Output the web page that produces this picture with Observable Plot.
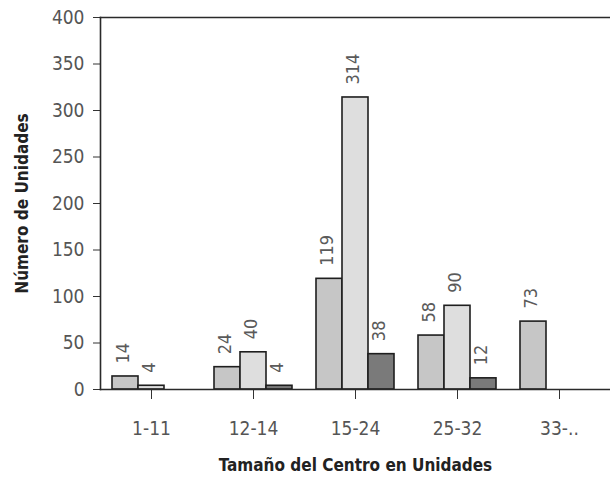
<!DOCTYPE html>
<html>
<head>
<meta charset="utf-8">
<script src="https://cdn.jsdelivr.net/npm/d3@7"></script>
<script src="https://cdn.jsdelivr.net/npm/@observablehq/plot@0.6"></script>
<style>
  html, body { margin: 0; padding: 0; background: #fff; overflow: hidden; }
  #chart svg, #chart svg text { font-stretch: condensed; }
</style>
</head>
<body>
<div id="chart"></div>
<script>
const categories = ["1-11", "12-14", "15-24", "25-32", "33-.."];
const seriesNames = ["Serie 1", "Serie 2", "Serie 3"];
const serie1 = [14, 24, 119, 58, 73];
const serie2 = [4, 40, 314, 90, null];
const serie3 = [null, 4, 38, 12, null];
const yTicks = [0, 50, 100, 150, 200, 250, 300, 350, 400];
const seriesColors = ["#c6c6c6", "#dedede", "#7a7a7a"];

const allSeries = [serie1, serie2, serie3];
const rows = [];
categories.forEach((c, i) => {
  seriesNames.forEach((s, j) => {
    const v = allSeries[j][i];
    if (v != null) rows.push({cat: c, series: s, value: v});
  });
});

const font = "'Liberation Sans Narrow', 'DejaVu Sans Condensed', 'DejaVu Sans', sans-serif";

const chart = Plot.plot({
  width: 610,
  height: 477,
  marginLeft: 99,
  marginRight: 0,
  marginTop: 17,
  marginBottom: 88,
  style: {fontFamily: font, fontSize: "19px", color: "#555", background: "#fff"},
  fx: {domain: categories, padding: 0, label: null, axis: null},
  x: {domain: seriesNames, paddingInner: 0, paddingOuter: 0.39, axis: null},
  y: {domain: [0, 400], axis: null},
  color: {domain: seriesNames, range: seriesColors},
  marks: [
    Plot.barY(rows, {fx: "cat", x: "series", y: "value", fill: "series", stroke: "#1e1e1e", strokeWidth: 1.6}),
    Plot.text(rows, {fx: "cat", x: "series", y: "value", text: d => String(d.value), rotate: -90, textAnchor: "start", dy: -13, dx: -2, fill: "#5a5a5a", fontSize: 18}),
    Plot.axisY({ticks: yTicks, tickSize: 7, tickPadding: 9, tickFormat: d => String(d), fill: "#555", stroke: "#333", fontSize: 19, label: null}),
    Plot.axisFx({ticks: categories, anchor: "bottom", tickSize: 10, tickPadding: 22, stroke: "#333", fill: "#555", fontSize: 19, label: null}),
    Plot.frame({facet: "super", anchor: "left", stroke: "#2a2a2a", strokeWidth: 1.6}),
    Plot.frame({facet: "super", anchor: "bottom", stroke: "#2a2a2a", strokeWidth: 1.6}),
    Plot.frame({facet: "super", anchor: "top", stroke: "#2a2a2a", strokeWidth: 1.6}),
    Plot.text(["Tamaño del Centro en Unidades"], {facet: "super", frameAnchor: "bottom", textAnchor: "middle", dy: 81, fontWeight: "bold", fontSize: 17, fill: "#222"}),
    Plot.text(["Número de Unidades"], {facet: "super", frameAnchor: "left", textAnchor: "middle", dx: -78, rotate: -90, fontWeight: "bold", fontSize: 17, fill: "#222"})
  ]
});
document.getElementById("chart").appendChild(chart);
</script>
</body>
</html>
